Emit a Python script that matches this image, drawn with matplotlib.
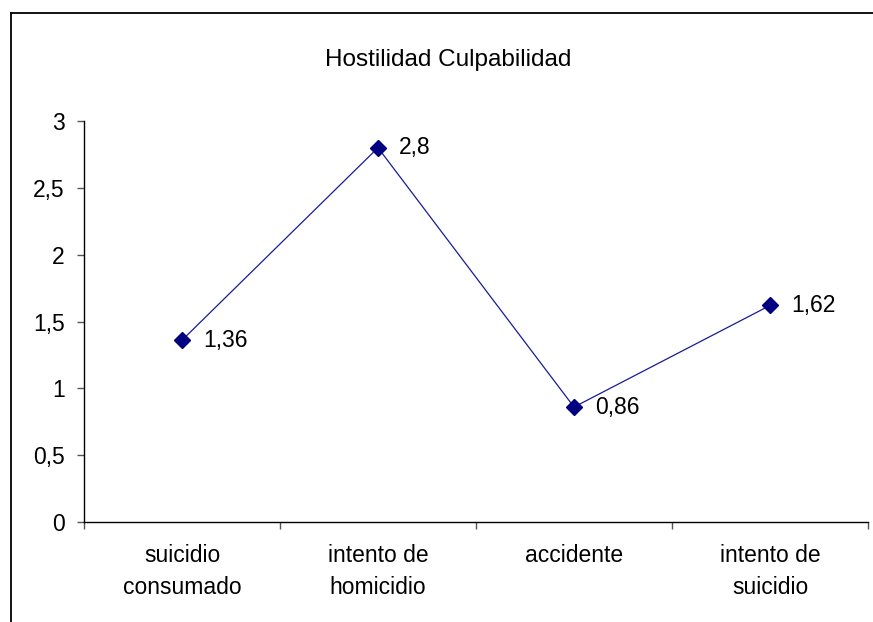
import matplotlib
matplotlib.use("Agg")
import matplotlib.pyplot as plt
from matplotlib.lines import Line2D
from matplotlib.ticker import FixedLocator, NullFormatter

plt.rcParams['font.family'] = ['Liberation Sans', 'DejaVu Sans']

title = "Hostilidad Culpabilidad"
categories = ["suicidio\nconsumado", "intento de\nhomicidio", "accidente", "intento de\nsuicidio"]
values = [1.36, 2.8, 0.86, 1.62]
y_ticks = [0, 0.5, 1, 1.5, 2, 2.5, 3]
y_tick_labels = ["0", "0,5", "1", "1,5", "2", "2,5", "3"]

FS = 16.5

W, H = 873, 622
fig = plt.figure(figsize=(W / 100, H / 100), dpi=100)

# chart frame (partially outside the canvas)
fig.add_artist(Line2D([11 / W, 11 / W], [0, 1 - 13 / H], transform=fig.transFigure,
                      color="black", lw=1.3))
fig.add_artist(Line2D([11 / W, 1.0], [1 - 13 / H, 1 - 13 / H], transform=fig.transFigure,
                      color="black", lw=1.3))

left, right = 84 / W, 868 / W
bottom, top = 1 - 522 / H, 1 - 121 / H
ax = fig.add_axes([left, bottom, right - left, top - bottom])

x = list(range(len(values)))
ax.plot(x, values, color="#1a1a99", lw=0.9, marker="D", markersize=8,
        markerfacecolor="#000080", markeredgecolor="#000080", zorder=3)

for xi, v in zip(x, values):
    ax.annotate(f"{v:g}".replace(".", ","), (xi, v), xytext=(15, 0),
                textcoords="offset points", va="center", ha="left", fontsize=FS)

ax.set_xlim(-0.5, len(values) - 0.5)
ax.set_ylim(0, 3)

ax.spines["top"].set_visible(False)
ax.spines["right"].set_visible(False)
for s in ("left", "bottom"):
    ax.spines[s].set_linewidth(1.0)
    ax.spines[s].set_color("black")

ax.set_yticks(y_ticks)
ax.set_yticklabels(y_tick_labels, fontsize=FS)
ax.tick_params(axis="y", direction="out", length=5, width=1, pad=9, color="#555555")

ax.xaxis.set_major_locator(FixedLocator([i - 0.5 for i in range(len(values) + 1)]))
ax.xaxis.set_major_formatter(NullFormatter())
ax.xaxis.set_minor_locator(FixedLocator(x))
ax.set_xticklabels(categories, minor=True, fontsize=FS, linespacing=1.55)
ax.tick_params(axis="x", which="major", direction="out", length=5, width=1, color="#555555")
ax.tick_params(axis="x", which="minor", length=0, pad=15.5)

fig.text(448 / W, 1 - 60 / H, title, ha="center", va="center", fontsize=17.5)

fig.savefig("out.png", dpi=100)
